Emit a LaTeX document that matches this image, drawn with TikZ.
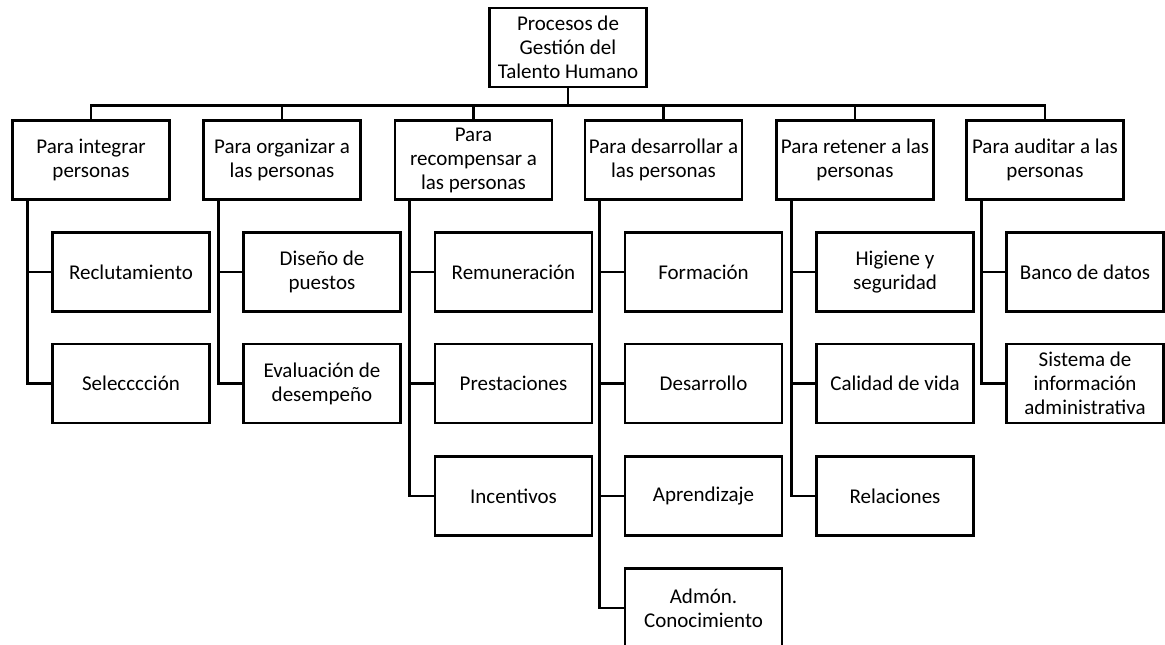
\documentclass[tikz,border=0pt]{standalone}
\usepackage{fontspec}
\setmainfont{Carlito}
\usetikzlibrary{calc}

\begin{document}
\begin{tikzpicture}[x=1pt,y=-1pt,line width=2.7pt,
    box/.style={rectangle,draw,minimum width=157pt,minimum height=79pt,
      inner sep=1pt,align=center,font=\fontsize{21}{24}\selectfont},
    link/.style={line width=2.7pt}]

  \useasboundingbox (0,0) rectangle (1165,645);

  \node[box] (root) at (568,47.5) {Procesos de\\Gestión del\\Talento Humano};

  \node[box] (p1) at (91,160)    {Para integrar\\personas};
  \node[box] (p2) at (282,160)   {Para organizar a\\las personas};
  \node[box] (p3) at (473.5,160) {Para\\recompensar a\\las personas};
  \node[box] (p4) at (663.5,160) {Para desarrollar a\\las personas};
  \node[box] (p5) at (855,160)   {Para retener a las\\personas};
  \node[box] (p6) at (1045,160)  {Para auditar a las\\personas};

  % hojas de cada columna
  \node[box] (r1) at ($(p1)+(40,112)$) {Reclutamiento};
  \node[box] (r2) at ($(p1)+(40,223.5)$) {Selecccción};

  \node[box] (o1) at ($(p2)+(40,112)$) {Diseño de\\puestos};
  \node[box] (o2) at ($(p2)+(40,223.5)$) {Evaluación de\\desempeño};

  \node[box] (c1) at ($(p3)+(40,112)$) {Remuneración};
  \node[box] (c2) at ($(p3)+(40,223.5)$) {Prestaciones};
  \node[box] (c3) at ($(p3)+(40,336)$) {Incentivos};

  \node[box] (d1) at ($(p4)+(40,112)$) {Formación};
  \node[box] (d2) at ($(p4)+(40,223.5)$) {Desarrollo};
  \node[box] (d3) at ($(p4)+(40,336)$) {Aprendizaje};
  \node[box] (d4) at ($(p4)+(40,448)$) {Admón.\\Conocimiento};

  \node[box] (t1) at ($(p5)+(40,112)$) {Higiene y\\seguridad};
  \node[box] (t2) at ($(p5)+(40,223.5)$) {Calidad de vida};
  \node[box] (t3) at ($(p5)+(40,336)$) {Relaciones};

  \node[box] (a1) at ($(p6)+(40,112)$) {Banco de datos};
  \node[box] (a2) at ($(p6)+(40,223.5)$) {Sistema de\\información\\administrativa};

  % ramas principales
  \foreach \p in {p1,p2,p3,p4,p5,p6}
    \draw[link] (root.south) -- ++(0,17) -| (\p.north);

  % ramas de las hojas
  \foreach \p/\l in {p1/r1,p1/r2,p2/o1,p2/o2,p3/c1,p3/c2,p3/c3,
                     p4/d1,p4/d2,p4/d3,p4/d4,p5/t1,p5/t2,p5/t3,p6/a1,p6/a2}
    \draw[link] ([xshift=16pt]\p.south west) |- (\l.west);

\end{tikzpicture}
\end{document}
